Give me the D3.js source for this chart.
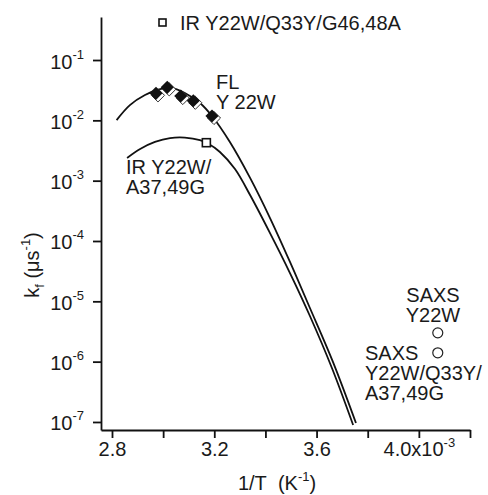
<!DOCTYPE html>
<html>
<head>
<meta charset="utf-8">
<script src="https://cdn.jsdelivr.net/npm/d3@7"></script>
<style>
  body { margin: 0; background: #fff; }
  svg text { font-family: "Liberation Sans", Arial, sans-serif; fill: #1a1a1a; }
</style>
</head>
<body>
<svg id="chart" width="488" height="495"></svg>
<script>
// 1/T values are in units of 1e-3 K^-1
let flPoints = [[2.972, 0.0280], [3.016, 0.0352], [3.069, 0.0253], [3.118, 0.0211], [3.191, 0.0118]];
let irPoint = [[3.169, 4.26e-3]];
let saxsPoints = [[4.074, 3.0e-6], [4.074, 1.4e-6]];

// fitted curves
let flFit = [[2.818, 1.01e-2], [2.870, 1.79e-2], [2.929, 2.63e-2], [2.988, 3.30e-2], [3.035, 3.43e-2],
  [3.085, 2.84e-2], [3.144, 1.94e-2], [3.191, 1.18e-2], [3.261, 4.37e-3], [3.340, 1.11e-3],
  [3.418, 2.40e-4], [3.496, 4.49e-5], [3.574, 7.75e-6], [3.664, 9.9e-7], [3.754, 9.6e-8]];
let irFit = [[2.859, 2.38e-3], [2.910, 3.35e-3], [2.968, 4.38e-3], [3.027, 5.09e-3], [3.085, 5.19e-3],
  [3.144, 4.72e-3], [3.172, 4.21e-3], [3.222, 2.99e-3], [3.281, 1.56e-3], [3.340, 5.78e-4],
  [3.418, 1.35e-4], [3.496, 2.94e-5], [3.574, 5.71e-6], [3.660, 7.85e-7], [3.743, 8.9e-8]];

let xTicks = [2.8, 3.0, 3.2, 3.4, 3.6, 3.8, 4.0, 4.2];
let xLabels = {2.8: '2.8', 3.2: '3.2', 3.6: '3.6', 4.0: '4.0x10'};
let yTicks = [1e-1, 1e-2, 1e-3, 1e-4, 1e-5, 1e-6, 1e-7];

let svg = d3.select('#chart');

let x = d3.scaleLinear().domain([2.757, 4.2]).range([101, 470]);
let y = d3.scaleLog().domain([Math.pow(10, -7.133), Math.pow(10, -0.287)]).range([430, 17]);

// axes
let xAxis = svg.append('g')
	.attr('transform', 'translate(0,430)')
	.call(d3.axisBottom(x).tickValues(xTicks).tickSize(8).tickSizeOuter(0).tickFormat(''));

let yAxis = svg.append('g')
	.attr('transform', 'translate(101,0)')
	.call(d3.axisLeft(y).tickValues(yTicks).tickSize(8).tickSizeOuter(0).tickFormat(''));

svg.selectAll('.domain, .tick line')
	.attr('stroke', '#111')
	.attr('stroke-width', 1.8);

// x tick labels
xAxis.selectAll('.tick').each(function(d) {
	let lab = xLabels[d];
	if (!lab) return;
	let t = d3.select(this).append('text')
		.attr('y', 26)
		.attr('text-anchor', 'middle')
		.style('font-size', '20px')
		.attr('fill', '#1a1a1a');
	t.append('tspan').text(lab);
	if (d == 4.0) {
		t.append('tspan').text('-3').style('font-size', '13px').attr('dy', -9);
	}
});

// y tick labels
yAxis.selectAll('.tick').each(function(d) {
	let e = Math.round(Math.log10(d));
	let t = d3.select(this).append('text')
		.attr('x', -17)
		.attr('y', 8)
		.attr('text-anchor', 'end')
		.style('font-size', '20px')
		.attr('fill', '#1a1a1a');
	t.append('tspan').text('10');
	t.append('tspan').text(e).style('font-size', '13px').attr('dy', -10);
});

// axis titles
let xt = svg.append('text')
	.attr('x', 277).attr('y', 490)
	.attr('text-anchor', 'middle')
	.style('font-size', '20px');
xt.append('tspan').text('1/T\u00a0\u00a0(K');
xt.append('tspan').text('-1').style('font-size', '13px').attr('dy', -9);
xt.append('tspan').text(')').attr('dy', 9);

let yt = svg.append('text')
	.attr('transform', 'translate(39,265) rotate(-90)')
	.attr('text-anchor', 'middle')
	.style('font-size', '20px');
yt.append('tspan').text('k');
yt.append('tspan').text('f').style('font-size', '13px').attr('dy', 5);
yt.append('tspan').text(' (μs').attr('dy', -5);
yt.append('tspan').text('-1').style('font-size', '13px').attr('dy', -9);
yt.append('tspan').text(')').attr('dy', 9);

// fit lines
let line = d3.line()
	.x(d => x(d[0]))
	.y(d => y(d[1]))
	.curve(d3.curveCatmullRom);

svg.selectAll('path.fit')
	.data([flFit, irFit])
	.enter()
	.append('path')
	.attr('class', 'fit')
	.attr('d', line)
	.attr('fill', 'none')
	.attr('stroke', '#111')
	.attr('stroke-width', 1.8);

// FL diamonds: open shadow diamond behind the filled one
let diamond = d3.symbol().type(d3.symbolDiamond2).size(110);
svg.selectAll('path.dshadow')
	.data(flPoints)
	.enter()
	.append('path')
	.attr('class', 'dshadow')
	.attr('d', diamond)
	.attr('transform', d => 'translate(' + (x(d[0]) + 2) + ',' + (y(d[1]) + 2) + ')')
	.attr('fill', '#fff')
	.attr('stroke', '#333')
	.attr('stroke-width', 1);
svg.selectAll('path.diamond')
	.data(flPoints)
	.enter()
	.append('path')
	.attr('class', 'diamond')
	.attr('d', diamond)
	.attr('transform', d => 'translate(' + x(d[0]) + ',' + y(d[1]) + ')')
	.attr('fill', '#111');

// IR square
svg.selectAll('rect.ir')
	.data(irPoint)
	.enter()
	.append('rect')
	.attr('class', 'ir')
	.attr('x', d => x(d[0]) - 4)
	.attr('y', d => y(d[1]) - 4)
	.attr('width', 8).attr('height', 8)
	.attr('fill', '#fff')
	.attr('stroke', '#111')
	.attr('stroke-width', 1.6);

// SAXS circles
svg.selectAll('circle.saxs')
	.data(saxsPoints)
	.enter()
	.append('circle')
	.attr('class', 'saxs')
	.attr('cx', d => x(d[0]))
	.attr('cy', d => y(d[1]))
	.attr('r', 5)
	.attr('fill', '#fff')
	.attr('stroke', '#222')
	.attr('stroke-width', 1.2);

// legend marker at top
svg.append('rect')
	.attr('x', 159).attr('y', 19)
	.attr('width', 7).attr('height', 7)
	.attr('fill', '#fff')
	.attr('stroke', '#111')
	.attr('stroke-width', 1.6);

// annotations
function label(lines, px, py, anchor) {
	let t = svg.append('text')
		.attr('x', px).attr('y', py)
		.attr('text-anchor', anchor || 'start')
		.style('font-size', '20px');
	lines.forEach((s, i) => {
		t.append('tspan').attr('x', px).attr('dy', i ? 20 : 0).text(s);
	});
}
label(['IR Y22W/Q33Y/G46,48A'], 180, 30);
label(['FL', 'Y 22W'], 216, 89);
label(['IR Y22W/', 'A37,49G'], 126, 174);
label(['SAXS', 'Y22W'], 433, 302, 'middle');
label(['SAXS'], 365, 360);
label(['Y22W/Q33Y/', 'A37,49G'], 365, 380);
</script>
</body>
</html>
